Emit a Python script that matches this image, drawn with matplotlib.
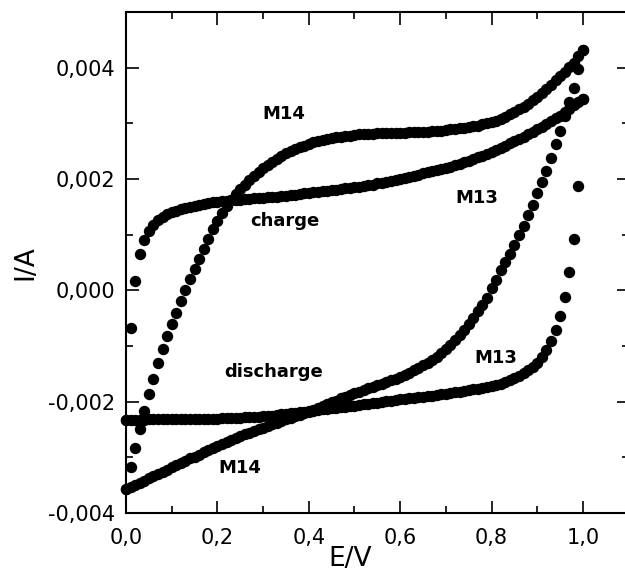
import numpy as np
import matplotlib
matplotlib.use("Agg")
import matplotlib.pyplot as plt
from matplotlib.ticker import FuncFormatter, MultipleLocator

plt.rcParams['font.family'] = ['DejaVu Sans']

# sweep potential, V
potential = [
    0.00, 0.01, 0.02, 0.03, 0.04, 0.05, 0.06, 0.07, 0.08, 0.09,
    0.10, 0.11, 0.12, 0.13, 0.14, 0.15, 0.16, 0.17, 0.18, 0.19,
    0.20, 0.21, 0.22, 0.23, 0.24, 0.25, 0.26, 0.27, 0.28, 0.29,
    0.30, 0.31, 0.32, 0.33, 0.34, 0.35, 0.36, 0.37, 0.38, 0.39,
    0.40, 0.41, 0.42, 0.43, 0.44, 0.45, 0.46, 0.47, 0.48, 0.49,
    0.50, 0.51, 0.52, 0.53, 0.54, 0.55, 0.56, 0.57, 0.58, 0.59,
    0.60, 0.61, 0.62, 0.63, 0.64, 0.65, 0.66, 0.67, 0.68, 0.69,
    0.70, 0.71, 0.72, 0.73, 0.74, 0.75, 0.76, 0.77, 0.78, 0.79,
    0.80, 0.81, 0.82, 0.83, 0.84, 0.85, 0.86, 0.87, 0.88, 0.89,
    0.90, 0.91, 0.92, 0.93, 0.94, 0.95, 0.96, 0.97, 0.98, 0.99,
    1.00,
]

# currents in mA, same potential order
m13_charge = [
    -2.33, -0.68, 0.16, 0.65, 0.90, 1.07, 1.18, 1.26, 1.32, 1.37,
    1.40, 1.43, 1.46, 1.48, 1.50, 1.52, 1.54, 1.55, 1.57, 1.58,
    1.59, 1.60, 1.61, 1.62, 1.62, 1.63, 1.64, 1.64, 1.65, 1.66,
    1.66, 1.67, 1.68, 1.68, 1.69, 1.70, 1.71, 1.72, 1.73, 1.74,
    1.75, 1.76, 1.77, 1.78, 1.79, 1.80, 1.81, 1.82, 1.83, 1.84,
    1.85, 1.86, 1.87, 1.89, 1.90, 1.92, 1.93, 1.95, 1.96, 1.98,
    2.00, 2.02, 2.04, 2.06, 2.08, 2.10, 2.12, 2.14, 2.16, 2.18,
    2.20, 2.22, 2.25, 2.27, 2.30, 2.33, 2.36, 2.39, 2.42, 2.45,
    2.49, 2.52, 2.56, 2.60, 2.64, 2.68, 2.72, 2.76, 2.80, 2.85,
    2.89, 2.94, 2.99, 3.04, 3.09, 3.14, 3.20, 3.26, 3.32, 3.38,
    3.44,
]
m13_discharge = [
    -2.33, -2.33, -2.33, -2.33, -2.33, -2.32, -2.32, -2.32, -2.32, -2.32,
    -2.32, -2.32, -2.32, -2.32, -2.31, -2.31, -2.31, -2.31, -2.31, -2.31,
    -2.31, -2.30, -2.30, -2.30, -2.29, -2.29, -2.28, -2.28, -2.27, -2.27,
    -2.26, -2.25, -2.25, -2.24, -2.23, -2.22, -2.21, -2.20, -2.19, -2.18,
    -2.17, -2.16, -2.15, -2.14, -2.13, -2.12, -2.11, -2.10, -2.09, -2.08,
    -2.07, -2.06, -2.05, -2.04, -2.03, -2.02, -2.00, -1.99, -1.98, -1.97,
    -1.96, -1.95, -1.94, -1.93, -1.92, -1.91, -1.90, -1.89, -1.88, -1.87,
    -1.86, -1.84, -1.83, -1.82, -1.81, -1.79, -1.78, -1.77, -1.75, -1.74,
    -1.72, -1.70, -1.68, -1.65, -1.62, -1.58, -1.54, -1.49, -1.44, -1.38,
    -1.30, -1.20, -1.07, -0.91, -0.71, -0.46, -0.12, 0.32, 0.93, 1.88,
    3.44,
]
m14_charge = [
    -3.57, -3.18, -2.83, -2.49, -2.17, -1.87, -1.60, -1.31, -1.06, -0.82,
    -0.60, -0.40, -0.20, 0.00, 0.20, 0.39, 0.57, 0.75, 0.93, 1.10,
    1.25, 1.39, 1.51, 1.62, 1.73, 1.82, 1.90, 1.98, 2.05, 2.12,
    2.19, 2.25, 2.31, 2.36, 2.41, 2.46, 2.50, 2.54, 2.57, 2.60,
    2.63, 2.66, 2.68, 2.70, 2.72, 2.74, 2.75, 2.76, 2.77, 2.78,
    2.79, 2.80, 2.80, 2.81, 2.81, 2.82, 2.82, 2.82, 2.83, 2.83,
    2.83, 2.83, 2.84, 2.84, 2.84, 2.85, 2.85, 2.86, 2.86, 2.87,
    2.88, 2.89, 2.90, 2.91, 2.92, 2.93, 2.95, 2.96, 2.98, 3.00,
    3.02, 3.05, 3.08, 3.12, 3.16, 3.20, 3.25, 3.30, 3.35, 3.41,
    3.47, 3.54, 3.61, 3.69, 3.77, 3.85, 3.93, 4.01, 4.09, 4.20,
    4.32,
]
m14_discharge = [
    -3.57, -3.54, -3.50, -3.46, -3.42, -3.38, -3.34, -3.30, -3.26, -3.22,
    -3.18, -3.14, -3.10, -3.06, -3.02, -2.99, -2.95, -2.91, -2.87, -2.84,
    -2.80, -2.76, -2.73, -2.69, -2.66, -2.62, -2.59, -2.56, -2.53, -2.50,
    -2.47, -2.44, -2.41, -2.38, -2.35, -2.32, -2.29, -2.26, -2.24, -2.21,
    -2.19, -2.15, -2.12, -2.08, -2.05, -2.01, -1.98, -1.94, -1.91, -1.88,
    -1.85, -1.82, -1.79, -1.76, -1.73, -1.70, -1.68, -1.65, -1.62, -1.59,
    -1.56, -1.52, -1.48, -1.44, -1.40, -1.35, -1.30, -1.25, -1.19, -1.13,
    -1.06, -0.98, -0.90, -0.81, -0.71, -0.61, -0.50, -0.38, -0.26, -0.13,
    0.04, 0.18, 0.36, 0.50, 0.66, 0.81, 0.99, 1.16, 1.35, 1.53,
    1.74, 1.94, 2.15, 2.38, 2.62, 2.87, 3.13, 3.39, 3.64, 3.97,
    4.32,
]

# curve labels: text, E (V), I at baseline (A)
labels = [
    ("M14", 0.346, 0.00308),
    ("charge", 0.347, 0.00115),
    ("M13", 0.767, 0.00156),
    ("discharge", 0.324, -0.00155),
    ("M13", 0.810, -0.00131),
    ("M14", 0.249, -0.00328),
]

fig = plt.figure(figsize=(6.25, 5.78), dpi=100)
ax = fig.add_axes([0.2016, 0.1125, 0.8043, 0.8668])

E = np.array(potential)
for sweep in (m13_charge, m13_discharge, m14_charge, m14_discharge):
    ax.plot(E, np.array(sweep) * 1e-3, 'o', color='black', markersize=8.2,
            markeredgewidth=0, clip_on=False)

for txt, x, y in labels:
    ax.text(x, y, txt, fontsize=13, fontweight='bold', ha='center', va='baseline')

ax.set_xlim(0, 1.1)
ax.set_ylim(-0.004, 0.005)
ax.xaxis.set_major_locator(MultipleLocator(0.2))
ax.xaxis.set_minor_locator(MultipleLocator(0.1))
ax.yaxis.set_major_locator(MultipleLocator(0.002))
ax.yaxis.set_minor_locator(MultipleLocator(0.001))
ax.xaxis.set_major_formatter(FuncFormatter(lambda v, p: f"{v:.1f}".replace('.', ',')))
ax.yaxis.set_major_formatter(FuncFormatter(lambda v, p: f"{v:.3f}".replace('.', ',')))
ax.tick_params(which='both', direction='in', top=True, right=True, width=1.2)
ax.tick_params(which='major', length=9, labelsize=15)
ax.tick_params(axis='y', which='major', pad=8)
ax.tick_params(axis='x', which='major', pad=11)
ax.tick_params(which='minor', length=5)
for s in ax.spines.values():
    s.set_linewidth(1.5)

ax.set_xlabel("E/V", fontsize=19)
ax.xaxis.set_label_coords(0.446, -0.065, transform=ax.transAxes)
ax.xaxis.label.set_va('top')
ax.set_ylabel("I/A", fontsize=19)
ax.yaxis.set_label_coords(-0.175, 0.5)

fig.savefig("out.png", dpi=100)
